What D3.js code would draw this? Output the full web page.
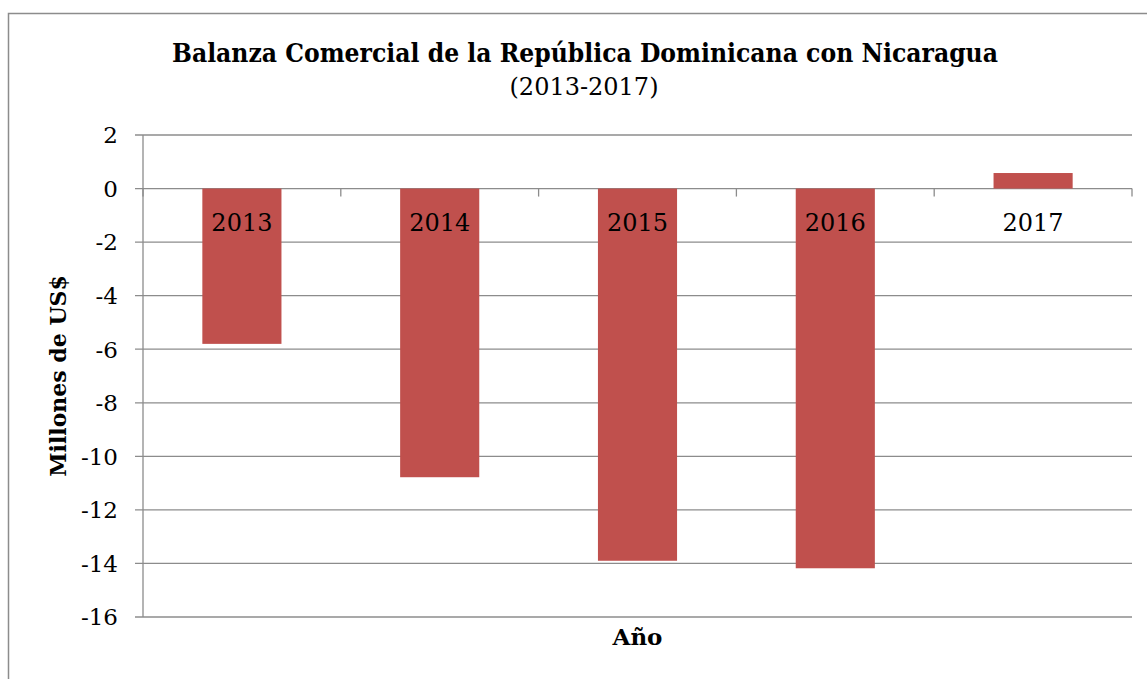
<!DOCTYPE html>
<html lang="es">
<head>
  <meta charset="UTF-8">
  <title>Balanza Comercial</title>
  <script src="https://d3js.org/d3.v7.min.js"></script>
  <style>
    body { margin: 0; background: #fff; }
    svg { display: block; font-family: "DejaVu Serif", "Liberation Serif", serif; }
  </style>
</head>
<body>
  <svg width="1147" height="679"></svg>
  <script>
    // datos
    const years = ["2013", "2014", "2015", "2016", "2017"]
    const balance = [-5.8, -10.78, -13.9, -14.18, 0.58]
    const yTicks = [2, 0, -2, -4, -6, -8, -10, -12, -14, -16]

    const svg = d3.select("svg")
    const plot = { left: 143, right: 1132, top: 135, bottom: 617 }
    const gray = "#8c8c8c"

    // marco exterior
    svg.append("rect")
      .attr("x", 8.5).attr("y", 13.5)
      .attr("width", 1160).attr("height", 700)
      .attr("fill", "none").attr("stroke", gray).attr("stroke-width", 1.5)

    const x = d3.scaleBand()
      .domain(years)
      .range([plot.left, plot.right])
      .paddingInner(0.6)
      .paddingOuter(0.3)

    const y = d3.scaleLinear()
      .domain([-16, 2])
      .range([plot.bottom, plot.top])

    // lineas de cuadricula
    svg.append("g")
      .selectAll("line")
      .data(yTicks)
      .join("line")
      .attr("x1", plot.left - 8)
      .attr("x2", plot.right)
      .attr("y1", d => y(d))
      .attr("y2", d => y(d))
      .attr("stroke", gray)
      .attr("stroke-width", 1.3)

    // eje y
    svg.append("line")
      .attr("x1", plot.left).attr("x2", plot.left)
      .attr("y1", plot.top).attr("y2", plot.bottom)
      .attr("stroke", gray).attr("stroke-width", 1.3)

    svg.append("g")
      .selectAll("text")
      .data(yTicks)
      .join("text")
      .attr("x", 118)
      .attr("y", d => y(d))
      .attr("dy", "0.36em")
      .attr("text-anchor", "end")
      .attr("font-size", 23)
      .attr("fill", "#000")
      .text(d => d)

    // barras
    svg.append("g")
      .selectAll("rect")
      .data(years)
      .join("rect")
      .attr("x", d => x(d))
      .attr("width", x.bandwidth())
      .attr("y", (d, i) => y(Math.max(0, balance[i])))
      .attr("height", (d, i) => Math.abs(y(balance[i]) - y(0)))
      .attr("fill", "#c0504d")

    // eje x en cero con marcas entre categorias
    const bounds = years.map(d => x(d) - x.step() * x.paddingInner() / 2)
    bounds.push(plot.right)
    svg.append("g")
      .selectAll("line")
      .data(bounds)
      .join("line")
      .attr("x1", d => d).attr("x2", d => d)
      .attr("y1", y(0)).attr("y2", y(0) + 8)
      .attr("stroke", gray).attr("stroke-width", 1.3)

    svg.append("g")
      .selectAll("text")
      .data(years)
      .join("text")
      .attr("x", d => x(d) + x.bandwidth() / 2)
      .attr("y", 231)
      .attr("text-anchor", "middle")
      .attr("font-size", 24)
      .attr("fill", "#000")
      .text(d => d)

    // titulos
    svg.append("text")
      .attr("x", 585).attr("y", 62)
      .attr("text-anchor", "middle")
      .attr("font-size", 26)
      .attr("font-weight", "bold")
      .attr("textLength", 826)
      .attr("lengthAdjust", "spacingAndGlyphs")
      .text("Balanza Comercial de la República Dominicana con Nicaragua")

    svg.append("text")
      .attr("x", 584).attr("y", 95)
      .attr("text-anchor", "middle")
      .attr("font-size", 24)
      .text("(2013-2017)")

    svg.append("text")
      .attr("x", (plot.left + plot.right) / 2).attr("y", 645)
      .attr("text-anchor", "middle")
      .attr("font-size", 23)
      .attr("font-weight", "bold")
      .text("Año")

    svg.append("text")
      .attr("transform", `translate(66,${(plot.top + plot.bottom) / 2}) rotate(-90)`)
      .attr("text-anchor", "middle")
      .attr("font-size", 22)
      .attr("font-weight", "bold")
      .text("Millones de US$")
  </script>
</body>
</html>
